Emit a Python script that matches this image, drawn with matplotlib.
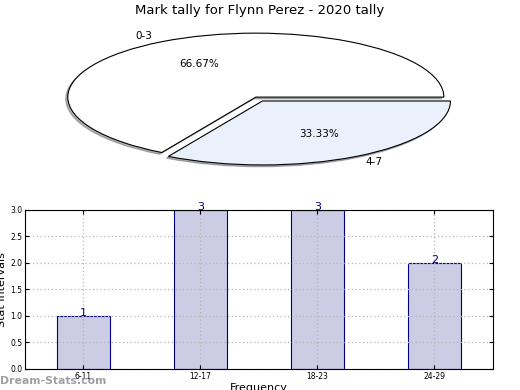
import matplotlib
matplotlib.use('Agg')
import matplotlib.pyplot as plt

pie_labels = ['0-3', '4-7']
pie_values = [2, 1]
pie_colors = ['#ffffff', '#eaf0fc']

bar_labels = ['6-11', '12-17', '18-23', '24-29']
bar_values = [1, 3, 3, 2]

fig = plt.figure(figsize=(5.2, 3.9), dpi=100)

# pie (squashed into an ellipse)
ax1 = fig.add_axes([0.04, 0.546, 0.904, 0.41])
wedges, texts, autotexts = ax1.pie(pie_values, labels=pie_labels, colors=pie_colors,
                                   explode=(0, 0.07), autopct='%.2f%%', startangle=0,
                                   shadow={'ox': -0.008, 'oy': -0.02, 'shade': 0.6},
                                   wedgeprops={'edgecolor': 'black', 'linewidth': 0.8},
                                   textprops={'fontsize': 7.5})
ax1.set_aspect('auto')
ax1.set_xlim(-1.25, 1.25)
ax1.set_ylim(-1.25, 1.25)
fig.text(0.5, 0.973, 'Mark tally for Flynn Perez - 2020 tally', ha='center', va='center', fontsize=9.5)

# bars
ax2 = fig.add_axes([0.048, 0.054, 0.9, 0.408])
x = list(range(len(bar_labels)))
ax2.bar(x, bar_values, width=0.45, color='#ccccE5', edgecolor='navy', linewidth=0.8, zorder=2)
for xi, v in zip(x, bar_values):
    ax2.text(xi, v, str(v), ha='center', va='baseline', color='navy', fontsize=8, zorder=6)
ax2.set_xlim(-0.5, 3.5)
ax2.set_ylim(0, 3)
ax2.set_xticks(x)
ax2.set_xticklabels(bar_labels)
ax2.set_yticks([0, 0.5, 1.0, 1.5, 2.0, 2.5, 3.0])
ax2.tick_params(labelsize=5.5, direction='in', top=True, right=True, length=3, pad=2)
ax2.grid(True, linestyle=(0, (1, 2)), color='#b5b5b5', linewidth=0.9, zorder=3)
ax2.set_axisbelow(False)
for sp in ax2.spines.values():
    sp.set_zorder(5)
ax2.set_ylabel('Stat Intervals', fontsize=8, labelpad=2)
ax2.set_xlabel('Frequency', fontsize=8, labelpad=2)

fig.text(0.0, 0.023, 'Dream-Stats.com', color='#a0a0a0', fontsize=7.8, fontweight='bold',
         ha='left', va='center')

fig.savefig('out.png', dpi=100)
